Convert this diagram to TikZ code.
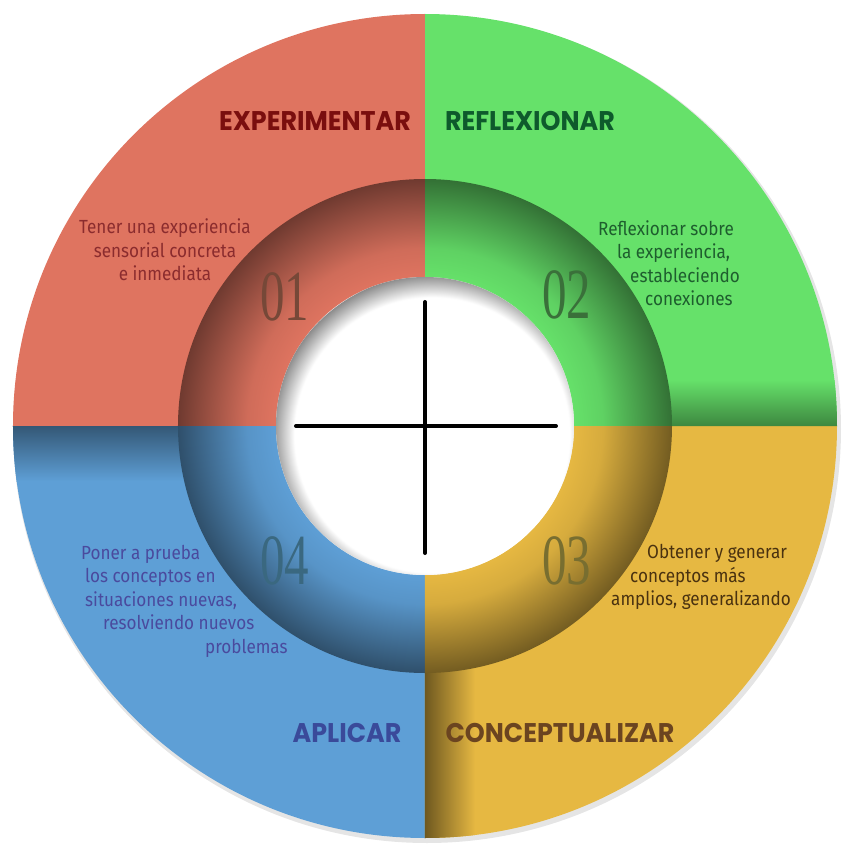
\documentclass[tikz,border=0pt]{standalone}
\usepackage{fontspec}
\usepackage{tikz}
\usetikzlibrary{calc}
\setmainfont{Liberation Serif}
\newfontfamily\headfont[FakeStretch=0.94]{Poppins}
\newfontfamily\bodyfont[FakeStretch=0.9]{Fira Sans}
\newfontfamily\numfont[FakeStretch=0.68]{Liberation Serif}

\definecolor{expred}{RGB}{223,116,96}
\definecolor{refgreen}{RGB}{102,225,106}
\definecolor{conyellow}{RGB}{230,184,66}
\definecolor{aplblue}{RGB}{94,159,214}
\definecolor{ringbase}{RGB}{223,116,96}

\pgfdeclareradialshading[ringbase]{ringshade}{\pgfpoint{0bp}{0bp}}{color(0bp)=(ringbase); color(15bp)=(ringbase); color(18bp)=(ringbase!93!black); color(25bp)=(ringbase!50!black); color(50bp)=(ringbase!50!black)}
\pgfdeclareradialshading{holeshade}{\pgfpoint{0bp}{0bp}}{color(0bp)=(white); color(21.5bp)=(white); color(25bp)=(black!45); color(50bp)=(black!45)}

\tikzset{
  heading/.style={font=\headfont\bfseries\fontsize{27}{27}\selectfont},
  bodytext/.style={font=\bodyfont\fontsize{19}{23.5}\selectfont, inner sep=0pt},
  numlabel/.style={font=\numfont\fontsize{72}{72}\selectfont, inner sep=0pt},
  crossline/.style={line width=4pt, line cap=round}
}

\begin{document}
\begin{tikzpicture}[x=1pt,y=1pt]
  \useasboundingbox (-425,-434) rectangle (431,426);
  % soft shadow of the wheel
  \fill[black!10] (2,-3) circle (414pt);
  % outer quadrants
  \foreach \col/\a in {refgreen/0,expred/90,aplblue/180,conyellow/270}
    \fill[\col] (0,0) -- (\a:412pt) arc[start angle=\a, end angle=\a+90, radius=412pt] -- cycle;
  \begin{scope}
    \clip (0,0) -- (0:412pt) arc[start angle=0, end angle=90, radius=412pt] -- cycle;
    \shade[top color=refgreen, bottom color=refgreen!60!black] (0,0) rectangle (412,46);
  \end{scope}
  \begin{scope}
    \clip (0,0) -- (180:412pt) arc[start angle=180, end angle=270, radius=412pt] -- cycle;
    \shade[top color=aplblue!55!black, bottom color=aplblue] (-412,-55) rectangle (0,0);
  \end{scope}
  \begin{scope}
    \clip (0,0) -- (270:412pt) arc[start angle=270, end angle=360, radius=412pt] -- cycle;
    \shade[left color=conyellow!48!black, right color=conyellow] (0,-412) rectangle (50,0);
  \end{scope}
  % inner ring
  \foreach \col/\a in {refgreen/0,expred/90,aplblue/180,conyellow/270}{
    \begin{scope}
      \colorlet{ringbase}{\col}
      \clip (0,0) -- (\a:250pt) arc[start angle=\a, end angle=\a+90, radius=250pt] -- cycle;
      \shade[shading=ringshade] (0,0) circle (247pt);
    \end{scope}
  }
  % centre hole
  \fill[white] (0,0) circle (149pt);
  \begin{scope}
    \clip (0,0) circle (149pt);
    \shade[shading=holeshade] (7,-9) circle (160pt);
  \end{scope}
  % cross
  \coordinate (west) at (-129,0);
  \coordinate (east) at (131,0);
  \coordinate (north) at (0,124);
  \coordinate (south) at (0,-127);
  \draw[crossline] (west) -- (east);
  \draw[crossline] (north) -- (south);
  % numbers
  \node[numlabel, text={rgb,255:red,118;green,72;blue,56}] (n01) at (-140,129) {01};
  \node[numlabel, text={rgb,255:red,58;green,112;blue,58}] (n02) at (142,131) {02};
  \node[numlabel, text={rgb,255:red,120;green,110;blue,48}] (n03) at (142,-135) {03};
  \node[numlabel, text={rgb,255:red,58;green,104;blue,128}] (n04) at (-140,-135) {04};
  % headings
  \node[heading, text={rgb,255:red,122;green,14;blue,14}] (experimentar) at (-110,305) {EXPERIMENTAR};
  \node[heading, text={rgb,255:red,14;green,90;blue,44}] (reflexionar) at (105,305) {REFLEXIONAR};
  \node[heading, text={rgb,255:red,58;green,74;blue,154}] (aplicar) at (-78,-307) {APLICAR};
  \node[heading, text={rgb,255:red,107;green,68;blue,32}] (conceptualizar) at (135,-307) {CONCEPTUALIZAR};
  % descriptions
  \node[bodytext, align=center, text={rgb,255:red,139;green,44;blue,46}] (experimentar text) at (-260,176)
    {Tener una experiencia\\sensorial concreta\\e inmediata};
  \node[bodytext, align=left, anchor=west, text={rgb,255:red,30;green,94;blue,46}] (reflexionar text) at (173,163)
    {Reflexionar sobre\\\hspace*{19pt}la experiencia,\\\hspace*{32pt}estableciendo\\\hspace*{47pt}conexiones};
  \node[bodytext, align=left, anchor=west, text={rgb,255:red,74;green,50;blue,16}] (conceptualizar text) at (186,-151)
    {\hspace*{36pt}Obtener y generar\\\hspace*{19pt}conceptos más\\amplios, generalizando};
  \node[bodytext, align=left, anchor=west, text={rgb,255:red,74;green,74;blue,158}] (aplicar text) at (-344,-175)
    {Poner a prueba\\\hspace*{4pt}los conceptos en\\\hspace*{4pt}situaciones nuevas,\\\hspace*{22pt}resolviendo nuevos\\\hspace*{124pt}problemas};
\end{tikzpicture}
\end{document}
